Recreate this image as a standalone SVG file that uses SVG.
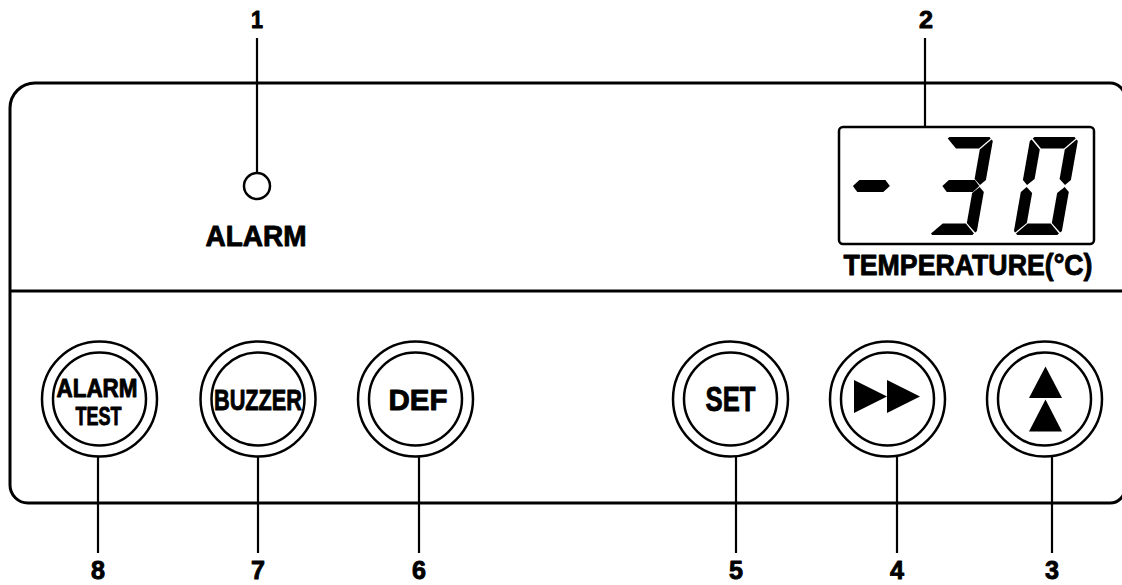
<svg xmlns="http://www.w3.org/2000/svg" width="1122" height="585" viewBox="0 0 1122 585">
  <style>
    .ln { fill: none; stroke: #000; stroke-width: 3; }
    .btn { fill: #fff; stroke: #000; stroke-width: 2.5; }
    .lead { stroke: #000; stroke-width: 2.2; fill: none; }
    .lbl { font-family: "Liberation Sans", Arial, sans-serif; font-weight: bold; fill: #000; text-anchor: middle; stroke: #000; stroke-width: 0.9; stroke-linejoin: round; }
    .num { font-size: 26px; }
    .seg { fill: #000; }
  </style>
  <defs>
    <polygon id="sa" points="2.5,1.5 4,0 44,0 45.5,1.5 35.5,11.5 12.5,11.5"/>
    <polygon id="sb" points="46.5,2.5 36.5,12.5 36.5,42 43,48 48,43 48,4"/>
    <polygon id="sc" points="43,50 36.5,56 36.5,86 46.5,95.5 48,94 48,55"/>
    <polygon id="sd" points="2.5,96.5 12.5,86.5 35.5,86.5 45.5,96.5 44,98 4,98"/>
    <polygon id="se" points="5,50 11.5,56 11.5,86 1.5,95.5 0,94 0,55"/>
    <polygon id="sf" points="1.5,2.5 11.5,12.5 11.5,42 5,48 0,43 0,4"/>
    <polygon id="sg" points="5.5,49 11,43 37,43 42.5,49 37,55 11,55"/>
  </defs>

  <g id="panel">
    <path class="ln" d="M 10 108 A 25 25 0 0 1 35 83 L 1110 83 A 15 15 0 0 1 1125 98 L 1125 488 A 15 15 0 0 1 1110 503 L 28 503 A 18 18 0 0 1 10 485 Z"/>
    <line class="ln" x1="10" y1="291" x2="1125" y2="291"/>
  </g>

  <g id="connectors">
    <line class="lead" x1="257" y1="38" x2="257" y2="173"/>
    <line class="lead" x1="925" y1="38" x2="925" y2="143"/>
    <line class="lead" x1="98" y1="437" x2="98" y2="553"/>
    <line class="lead" x1="258" y1="437" x2="258" y2="553"/>
    <line class="lead" x1="419" y1="437" x2="419" y2="553"/>
    <line class="lead" x1="736" y1="437" x2="736" y2="553"/>
    <line class="lead" x1="897" y1="437" x2="897" y2="553"/>
    <line class="lead" x1="1052" y1="437" x2="1052" y2="553"/>
  </g>

  <g id="alarm-led">
    <circle cx="257" cy="186" r="13" fill="#fff" stroke="#000" stroke-width="2.5"/>
    <text class="lbl" x="256" y="246" font-size="30" textLength="101" lengthAdjust="spacingAndGlyphs">ALARM</text>
  </g>

  <g id="display">
    <rect x="839" y="127" width="255" height="117" rx="4" fill="#fff" stroke="#000" stroke-width="2.5"/>
    <g transform="translate(856,137) skewX(-10)" class="seg">
      <use href="#sg"/>
    </g>
    <g transform="translate(945.5,137) skewX(-10)" class="seg">
      <use href="#sa"/><use href="#sb"/><use href="#sc"/><use href="#sd"/><use href="#sg"/>
    </g>
    <g transform="translate(1030.5,137) skewX(-10)" class="seg">
      <use href="#sa"/><use href="#sb"/><use href="#sc"/><use href="#sd"/><use href="#se"/><use href="#sf"/>
    </g>
    <text class="lbl" x="968" y="275" font-size="30" textLength="249" lengthAdjust="spacingAndGlyphs">TEMPERATURE(°C)</text>
  </g>

  <g id="btn-alarm-test">
    <circle class="btn" cx="99.5" cy="399" r="57.5"/>
    <circle class="btn" cx="99.5" cy="399" r="46.5"/>
    <text class="lbl" font-size="25"><tspan x="97" y="397" textLength="81" lengthAdjust="spacingAndGlyphs">ALARM</tspan><tspan x="98.5" y="425" textLength="46" lengthAdjust="spacingAndGlyphs">TEST</tspan></text>
  </g>
  <g id="btn-buzzer">
    <circle class="btn" cx="258" cy="399" r="57.5"/>
    <circle class="btn" cx="258" cy="399" r="46.5"/>
    <text class="lbl" x="258" y="410" font-size="30" textLength="88" lengthAdjust="spacingAndGlyphs">BUZZER</text>
  </g>
  <g id="btn-def">
    <circle class="btn" cx="415.5" cy="399" r="57.5"/>
    <circle class="btn" cx="415.5" cy="399" r="46.5"/>
    <text class="lbl" x="418" y="410" font-size="30" textLength="59" lengthAdjust="spacingAndGlyphs">DEF</text>
  </g>
  <g id="btn-set">
    <circle class="btn" cx="730.5" cy="399" r="57.5"/>
    <circle class="btn" cx="730.5" cy="399" r="46.5"/>
    <text class="lbl" x="730.5" y="411" font-size="35" textLength="50" lengthAdjust="spacingAndGlyphs">SET</text>
  </g>
  <g id="btn-next">
    <circle class="btn" cx="887.5" cy="399" r="57.5"/>
    <circle class="btn" cx="887.5" cy="399" r="46.5"/>
    <polygon points="854,380 887,396.5 854,413" fill="#000"/>
    <polygon points="887,380 920,396.5 887,413" fill="#000"/>
  </g>
  <g id="btn-up">
    <circle class="btn" cx="1044.5" cy="399" r="57.5"/>
    <circle class="btn" cx="1044.5" cy="399" r="46.5"/>
    <polygon points="1045.5,366.5 1062,398 1029,398" fill="#000"/>
    <polygon points="1045.5,399.5 1062,431.5 1029,431.5" fill="#000"/>
  </g>

  <g id="labels">
    <text class="lbl" x="257" y="28" font-size="24" textLength="12" lengthAdjust="spacingAndGlyphs">1</text>
    <text class="lbl" x="926" y="28" font-size="24" textLength="14" lengthAdjust="spacingAndGlyphs">2</text>
    <text class="lbl num" x="1052" y="579" textLength="14" lengthAdjust="spacingAndGlyphs">3</text>
    <text class="lbl num" x="897" y="579" textLength="14" lengthAdjust="spacingAndGlyphs">4</text>
    <text class="lbl num" x="736" y="579" textLength="14" lengthAdjust="spacingAndGlyphs">5</text>
    <text class="lbl num" x="419" y="579" textLength="14" lengthAdjust="spacingAndGlyphs">6</text>
    <text class="lbl num" x="258" y="579" textLength="14" lengthAdjust="spacingAndGlyphs">7</text>
    <text class="lbl num" x="98" y="579" textLength="14" lengthAdjust="spacingAndGlyphs">8</text>
  </g>
</svg>
